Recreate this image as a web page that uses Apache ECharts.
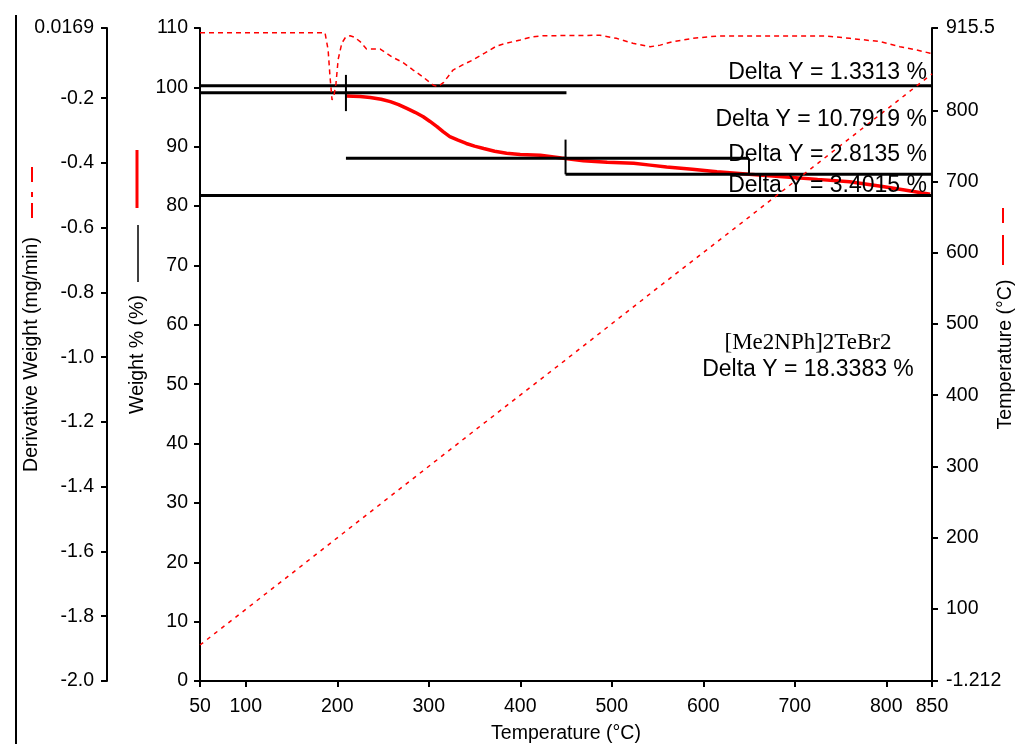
<!DOCTYPE html>
<html><head><meta charset="utf-8">
<script src="https://cdn.jsdelivr.net/npm/echarts@6/dist/echarts.min.js"></script>
<style>html,body{margin:0;padding:0;background:#fff;overflow:hidden}#c{width:1017px;height:744px}</style>
</head><body><div id="c"></div>
<script>
// ---- tick labels ----
const xTicks = [50, 100, 200, 300, 400, 500, 600, 700, 800, 850];
const weightTicks = [0, 10, 20, 30, 40, 50, 60, 70, 80, 90, 100, 110];
const dtgTicks = [-2.0, -1.8, -1.6, -1.4, -1.2, -1.0, -0.8, -0.6, -0.4, -0.2, 0.0169];
const tempTicks = [-1.212, 100, 200, 300, 400, 500, 600, 700, 800, 915.5];

// ---- series values (temperature °C, value) ----
const weightCurve = [
  [210, 98.55], [225, 98.45], [236, 98.3], [248, 98.0], [258, 97.6], [267, 97.1],
  [276, 96.45], [285, 95.8], [294, 95.05], [301, 94.3], [309, 93.4], [316, 92.5],
  [323, 91.7], [332, 91.1], [341, 90.55], [350, 90.1], [360, 89.7], [372, 89.25],
  [385, 88.9], [400, 88.7], [422, 88.55], [445, 88.1], [469, 87.65], [495, 87.4],
  [524, 87.2], [542, 86.9], [560, 86.6], [588, 86.2], [615, 85.8], [650, 85.35],
  [687, 84.95], [725, 84.5], [760, 84.1], [796, 83.3], [820, 82.7], [848, 82.0]
];
const dtgCurve = [
  [50, 0.0024], [120, 0.0024], [186.6, 0.0024], [190, -0.05], [192, -0.13], [194.3, -0.205],
  [196.5, -0.19], [198.6, -0.155], [201, -0.08], [205, -0.03], [209, -0.012], [214, -0.007],
  [219, -0.012], [225, -0.025], [232, -0.048], [247, -0.048], [259.5, -0.072], [272, -0.09],
  [283, -0.113], [294, -0.135], [305, -0.16], [310, -0.164], [316, -0.152], [326.5, -0.113],
  [337, -0.097], [348, -0.082], [361.5, -0.06], [374, -0.039], [385, -0.030], [400, -0.020],
  [414, -0.010], [425, -0.007], [487, -0.0056], [505, -0.015], [523, -0.030], [542, -0.041],
  [553, -0.036], [567, -0.025], [589, -0.015], [615, -0.008], [735, -0.008], [760, -0.015],
  [793, -0.025], [815, -0.041], [833, -0.051], [848, -0.061], [850, -0.062]
];
const tempCurve = [
  [50, 49.3], [150, 149.5], [250, 250], [350, 350.3], [450, 450], [550, 550.5],
  [650, 650], [750, 750.5], [850, 851]
];

// ---- step-change annotation segments (temperature, weight %) ----
const stepLevels = [
  [[50, 100.27], [850, 100.27]],
  [[50, 99.08], [450.5, 99.08]],
  [[209.5, 88.05], [650, 88.05]],
  [[449.5, 85.35], [850, 85.35]],
  [[50, 81.8], [850, 81.8]]
];
const stepTicks = [
  [[209.5, 102.1], [209.5, 96.0]],
  [[449.5, 91.2], [449.5, 85.35]],
  [[650, 88.05], [650, 85.35]]
];
const deltaLabels = ['Delta Y = 1.3313 %', 'Delta Y = 10.7919 %', 'Delta Y = 2.8135 %', 'Delta Y = 3.4015 %'];
const sampleName = '[Me2NPh]2TeBr2';
const totalLabel = 'Delta Y = 18.3383 %';

const FONT = 'Liberation Sans, Arial, sans-serif';
const axisCommon = {
  nameMoveOverlap: false,
  axisLine: { show: true, lineStyle: { color: '#000', width: 2 } },
  axisTick: { show: true, length: 6, lineStyle: { color: '#000', width: 2 } },
  axisLabel: { color: '#000', fontSize: 19.5, fontFamily: FONT },
  splitLine: { show: false },
  nameTextStyle: { color: '#000', fontSize: 19.5, fontFamily: FONT }
};

const series = [
  {
    type: 'line', yAxisIndex: 0, data: weightCurve, showSymbol: false, symbol: 'none',
    lineStyle: { color: '#ff0000', width: 3.5 }, z: 2
  }
];
stepLevels.forEach(seg => series.push({
  type: 'line', yAxisIndex: 0, data: seg, symbol: 'none', silent: true,
  lineStyle: { color: '#000', width: 3 }, z: 3
}));
stepTicks.forEach(seg => series.push({
  type: 'line', yAxisIndex: 0, data: seg, symbol: 'none', silent: true,
  lineStyle: { color: '#000', width: 2 }, z: 3
}));
series.push({
  type: 'line', yAxisIndex: 1, data: dtgCurve, symbol: 'none',
  lineStyle: { color: '#ff0000', width: 1.5, type: [5, 4] }, z: 4
});
series.push({
  type: 'line', yAxisIndex: 2, data: tempCurve, symbol: 'none',
  lineStyle: { color: '#ff0000', width: 1.5, type: [4, 5] }, z: 4
});

const labelY = [73, 120, 155, 186];
const graphics = [
  { type: 'line', shape: { x1: 16, y1: 15, x2: 16, y2: 744 }, style: { stroke: '#000', lineWidth: 2 } },
  { type: 'line', shape: { x1: 32, y1: 167, x2: 32, y2: 225 }, style: { stroke: '#ff0000', lineWidth: 2, lineDash: [15, 10, 5, 6] } },
  { type: 'line', shape: { x1: 137, y1: 150, x2: 137, y2: 208 }, style: { stroke: '#ff0000', lineWidth: 3 } },
  { type: 'line', shape: { x1: 138, y1: 225, x2: 138, y2: 282 }, style: { stroke: '#000', lineWidth: 1.5 } },
  { type: 'line', shape: { x1: 1003, y1: 208, x2: 1003, y2: 267 }, style: { stroke: '#ff0000', lineWidth: 2, lineDash: [15, 12, 30, 12] } }
];
deltaLabels.forEach((t, i) => graphics.push({
  type: 'text', x: 927, y: labelY[i], z: 10,
  style: { text: t, fill: '#000', font: '23px ' + FONT, align: 'right', verticalAlign: 'middle' }
}));
graphics.push({
  type: 'text', x: 808, y: 343, z: 10,
  style: { text: sampleName, fill: '#000', font: '23px Liberation Serif, Times New Roman, serif', align: 'center', verticalAlign: 'middle' }
});
graphics.push({
  type: 'text', x: 808, y: 370, z: 10,
  style: { text: totalLabel, fill: '#000', font: '23px ' + FONT, align: 'center', verticalAlign: 'middle' }
});

const chart = echarts.init(document.getElementById('c'), null, { renderer: 'canvas' });
chart.setOption({
  animation: false,
  backgroundColor: '#fff',
  grid: { left: 200, right: 85, top: 28, bottom: 63, containLabel: false, outerBoundsMode: 'none' },
  xAxis: Object.assign({}, axisCommon, {
    type: 'value', min: 50, max: 850, interval: 50,
    name: 'Temperature (°C)', nameLocation: 'middle', nameGap: 43,
    axisTick: Object.assign({}, axisCommon.axisTick, { customValues: xTicks }),
    axisLabel: Object.assign({}, axisCommon.axisLabel, { customValues: xTicks, margin: 16 })
  }),
  yAxis: [
    Object.assign({}, axisCommon, {
      type: 'value', position: 'left', min: 0, max: 110, interval: 10,
      name: 'Weight % (%)', nameLocation: 'middle', nameGap: 52, nameRotate: 90,
      axisTick: Object.assign({}, axisCommon.axisTick, { customValues: weightTicks }),
      axisLabel: Object.assign({}, axisCommon.axisLabel, { customValues: weightTicks, margin: 12 })
    }),
    Object.assign({}, axisCommon, {
      type: 'value', position: 'left', offset: 93, min: -2.0, max: 0.0169,
      name: 'Derivative Weight (mg/min)', nameLocation: 'middle', nameGap: 65, nameRotate: 90,
      axisTick: Object.assign({}, axisCommon.axisTick, { customValues: dtgTicks }),
      axisLabel: Object.assign({}, axisCommon.axisLabel, {
        customValues: dtgTicks, margin: 13,
        formatter: v => (Math.abs(v - 0.0169) < 1e-6 ? '0.0169' : v.toFixed(1))
      })
    }),
    Object.assign({}, axisCommon, {
      type: 'value', position: 'right', min: -1.212, max: 915.5,
      name: 'Temperature (°C)', nameLocation: 'middle', nameGap: 64, nameRotate: 90,
      axisTick: Object.assign({}, axisCommon.axisTick, { customValues: tempTicks }),
      axisLabel: Object.assign({}, axisCommon.axisLabel, {
        customValues: tempTicks, margin: 14,
        formatter: v => String(v)
      })
    })
  ],
  series: series,
  graphic: graphics
});
</script>
</body></html>
